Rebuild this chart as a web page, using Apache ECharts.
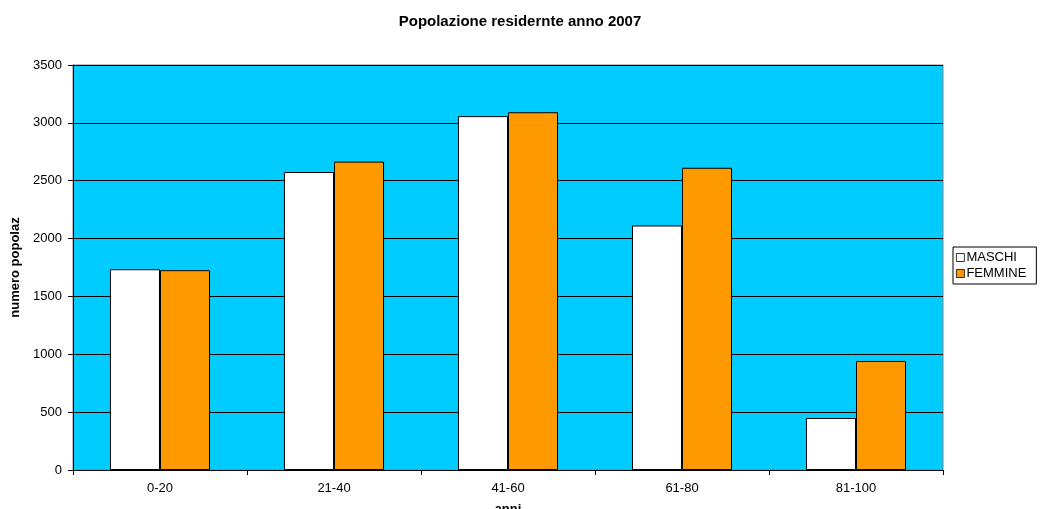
<!DOCTYPE html>
<html>
<head>
<meta charset="utf-8">
<script src="https://cdn.jsdelivr.net/npm/echarts@6/dist/echarts.min.js"></script>
<style>
  html, body { margin: 0; padding: 0; background: #fff; }
  #chart { width: 1040px; height: 509px; }
</style>
</head>
<body>
<div id="chart"></div>
<script>
// Age groups and resident counts by sex
const categories = ['0-20', '21-40', '41-60', '61-80', '81-100'];
const maschi = [1735, 2575, 3058, 2113, 449];
const femmine = [1727, 2665, 3092, 2612, 942];
const yTicks = { min: 0, max: 3500, interval: 500 };

const FONT = '"Liberation Sans", Arial, sans-serif';

const chart = echarts.init(document.getElementById('chart'), null, { renderer: 'canvas' });

chart.setOption({
  animation: false,
  backgroundColor: '#ffffff',
  title: {
    text: 'Popolazione residernte anno 2007',
    left: 'center',
    top: 9,
    textStyle: { fontFamily: FONT, fontSize: 15, fontWeight: 'bold', color: '#000' }
  },
  legend: {
    orient: 'vertical',
    left: 953,
    top: 247,
    padding: [4, 10, 4, 3],
    itemGap: 3,
    itemWidth: 8,
    itemHeight: 8,
    icon: 'rect',
    itemStyle: { borderColor: '#000', borderWidth: 0.8 },
    borderColor: '#000',
    borderWidth: 1,
    textStyle: { fontFamily: FONT, fontSize: 13, color: '#000', padding: [0, 0, 0, -3] },
    data: ['MASCHI', 'FEMMINE']
  },
  grid: {
    left: 73,
    right: 97,
    top: 65,
    bottom: 39,
    outerBoundsMode: 'none',
    show: true,
    backgroundColor: '#00CCFF',
    borderColor: '#808080',
    borderWidth: 1
  },
  xAxis: {
    type: 'category',
    data: categories,
    name: 'anni',
    nameLocation: 'middle',
    nameGap: 33,
    nameTextStyle: { fontFamily: FONT, fontSize: 13, fontWeight: 'bold', color: '#000', verticalAlign: 'top' },
    axisLine: { lineStyle: { color: '#000', width: 1 } },
    axisTick: { show: true, interval: 0, length: 5, lineStyle: { color: '#000' } },
    axisLabel: { fontFamily: FONT, fontSize: 13, color: '#000', margin: 12 }
  },
  yAxis: {
    type: 'value',
    min: yTicks.min,
    max: yTicks.max,
    interval: yTicks.interval,
    name: 'numero popolaz',
    nameLocation: 'middle',
    nameRotate: 90,
    nameGap: 51,
    nameTextStyle: { fontFamily: FONT, fontSize: 13, fontWeight: 'bold', color: '#000' },
    axisLine: { show: true, lineStyle: { color: '#000', width: 1 } },
    axisTick: { show: true, length: 5, lineStyle: { color: '#000' } },
    axisLabel: { fontFamily: FONT, fontSize: 13, color: '#000', margin: 11, formatter: v => String(v) },
    splitLine: { show: true, lineStyle: { color: '#000', width: 1 } }
  },
  series: [
    {
      name: 'MASCHI',
      type: 'bar',
      data: maschi,
      barGap: '0%',
      barCategoryGap: '42.5%',
      itemStyle: { color: '#ffffff', borderColor: '#000', borderWidth: 1 }
    },
    {
      name: 'FEMMINE',
      type: 'bar',
      data: femmine,
      barGap: '0%',
      barCategoryGap: '42.5%',
      itemStyle: { color: '#FF9900', borderColor: '#000', borderWidth: 1 }
    }
  ]
});
</script>
</body>
</html>
